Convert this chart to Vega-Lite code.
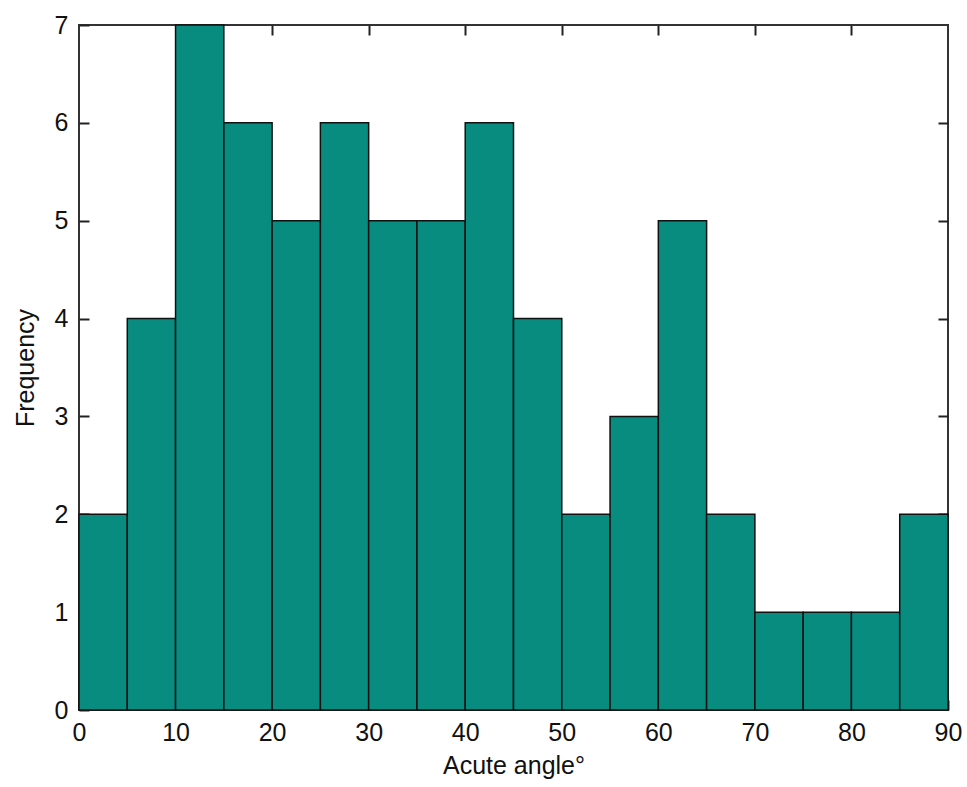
{
  "$schema": "https://vega.github.io/schema/vega-lite/v6.json",
  "autosize": "none",
  "padding": {"left": 79, "top": 25, "right": 19, "bottom": 77},
  "width": 869,
  "height": 685,
  "background": "white",
  "config": {
    "font": "Liberation Sans",
    "view": {"stroke": "#333333", "strokeWidth": 2},
    "axis": {"grid": false, "domain": false, "tickColor": "#222222", "tickWidth": 2, "labelColor": "#111111", "titleColor": "#111111", "labelFontSize": 25, "titleFontSize": 25, "titleFontWeight": "normal", "labelFont": "Liberation Sans", "titleFont": "Liberation Sans"}
  },
  "data": {
    "values": [
      {"bin_start": 0, "bin_end": 5, "count": 2},
      {"bin_start": 5, "bin_end": 10, "count": 4},
      {"bin_start": 10, "bin_end": 15, "count": 7},
      {"bin_start": 15, "bin_end": 20, "count": 6},
      {"bin_start": 20, "bin_end": 25, "count": 5},
      {"bin_start": 25, "bin_end": 30, "count": 6},
      {"bin_start": 30, "bin_end": 35, "count": 5},
      {"bin_start": 35, "bin_end": 40, "count": 5},
      {"bin_start": 40, "bin_end": 45, "count": 6},
      {"bin_start": 45, "bin_end": 50, "count": 4},
      {"bin_start": 50, "bin_end": 55, "count": 2},
      {"bin_start": 55, "bin_end": 60, "count": 3},
      {"bin_start": 60, "bin_end": 65, "count": 5},
      {"bin_start": 65, "bin_end": 70, "count": 2},
      {"bin_start": 70, "bin_end": 75, "count": 1},
      {"bin_start": 75, "bin_end": 80, "count": 1},
      {"bin_start": 80, "bin_end": 85, "count": 1},
      {"bin_start": 85, "bin_end": 90, "count": 2}
    ]
  },
  "layer": [
    {
      "mark": {"type": "bar", "color": "#088c80", "stroke": "#111111", "strokeWidth": 1.5},
      "encoding": {
        "x": {"field": "bin_start", "type": "quantitative", "scale": {"domain": [0, 90], "nice": false},
              "axis": {"orient": "bottom", "values": [0,10,20,30,40,50,60,70,80,90], "tickSize": -10, "labelPadding": 20, "title": "Acute angle°", "titlePadding": 8, "labelFlush": false}},
        "x2": {"field": "bin_end"},
        "y": {"field": "count", "type": "quantitative", "scale": {"domain": [0, 7], "nice": false},
              "axis": {"orient": "left", "values": [0,1,2,3,4,5,6,7], "tickSize": -10, "labelPadding": 21, "title": "Frequency", "titlePadding": 16, "labelFlush": false}},
        "y2": {"datum": 0}
      }
    },
    {
      "mark": {"type": "bar", "opacity": 0},
      "encoding": {
        "x": {"field": "bin_start", "type": "quantitative", "scale": {"domain": [0, 90], "nice": false},
              "axis": {"orient": "top", "values": [10,20,30,40,50,60,70,80], "tickSize": -10, "labels": false, "title": null}},
        "x2": {"field": "bin_end"},
        "y": {"field": "count", "type": "quantitative", "scale": {"domain": [0, 7], "nice": false},
              "axis": {"orient": "right", "values": [1,2,3,4,5,6], "tickSize": -10, "labels": false, "title": null}},
        "y2": {"datum": 0}
      }
    }
  ],
  "resolve": {"axis": {"x": "independent", "y": "independent"}}
}
